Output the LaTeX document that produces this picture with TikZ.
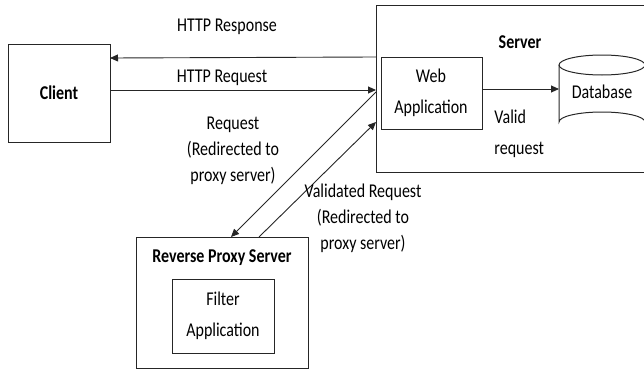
\documentclass[tikz,border=0pt]{standalone}
\usepackage{fontspec}
\setmainfont{Carlito}
\usetikzlibrary{arrows.meta}
\begin{document}
\begin{tikzpicture}[x=1pt,y=-1pt,
  line width=0.9pt,
  box/.style={draw=black!85,line width=1pt},
  tall/.style={yscale=1.22,transform shape},
  lbl/.style={tall,inner sep=0pt,align=center,font=\fontsize{16}{21.3}\selectfont},
  lblw/.style={tall,inner sep=0pt,align=center,font=\fontsize{16}{25.8}\selectfont},
  ttl/.style={tall,inner sep=0pt,font=\fontsize{16}{20}\selectfont\bfseries},
  arr/.style={draw=black!85,-{Triangle[length=8pt,width=7pt]}}]
\useasboundingbox (0,0) rectangle (644,369);
\begin{scope}
\clip (0,0) rectangle (644,369);
% boxes
\draw[box] (8,45) rectangle (110,142);
\coordinate (clientE1) at (110,58);
\coordinate (clientE2) at (110,90);
\draw[box] (376,6) rectangle (700,172);
\draw[box] (381,57) rectangle (482,129);
\draw[box] (136,237) rectangle (308,368);
\draw[box] (172,279) rectangle (274,353);
% cylinder
\draw[box] (559,65) -- (559,122) arc[start angle=180,end angle=360,x radius=43,y radius=10] -- (645,65);
\draw[box] (602,65) ellipse[x radius=43,y radius=10];
\end{scope}
% named points
\node[ttl] (client) at (59,93) {Client};
\node[ttl] (server) at (520,42) {Server};
\node[lblw] (web) at (431,93) {Web\\Application};
\node[lbl] (db) at (602,92) {Database};
\node[ttl] (proxy) at (222,258) {Reverse Proxy Server};
\node[lblw] (filter) at (223,316) {Filter\\Application};
\coordinate (sResp) at (376,57);
\coordinate (sReq) at (376,90);
\coordinate (sA) at (376,92);
\coordinate (sB) at (376,122);
\coordinate (pA) at (231,237);
\coordinate (pB) at (259,237);
\coordinate (webE) at (482,89);
\coordinate (dbW) at (559,89);
% arrows
\draw[arr] (sResp) -- (clientE1);
\draw[arr] (clientE2) -- (sReq);
\draw[arr] (sA) -- (pA);
\draw[arr] (pB) -- (sB);
\draw[arr] (webE) -- (dbW);
% labels
\node[lbl] (lresp) at (227,27) {HTTP Response};
\node[lbl] (lreq) at (222,78) {HTTP Request};
\node[lbl] (lred) at (233,151) {Request\\(Redirected to\\proxy server)};
\node[lbl] (lval) at (363,218.5) {Validated Request\\(Redirected to\\proxy server)};
\node[lblw,align=left,anchor=west] (lvalid) at (494,134) {Valid\\request};
\end{tikzpicture}
\end{document}
